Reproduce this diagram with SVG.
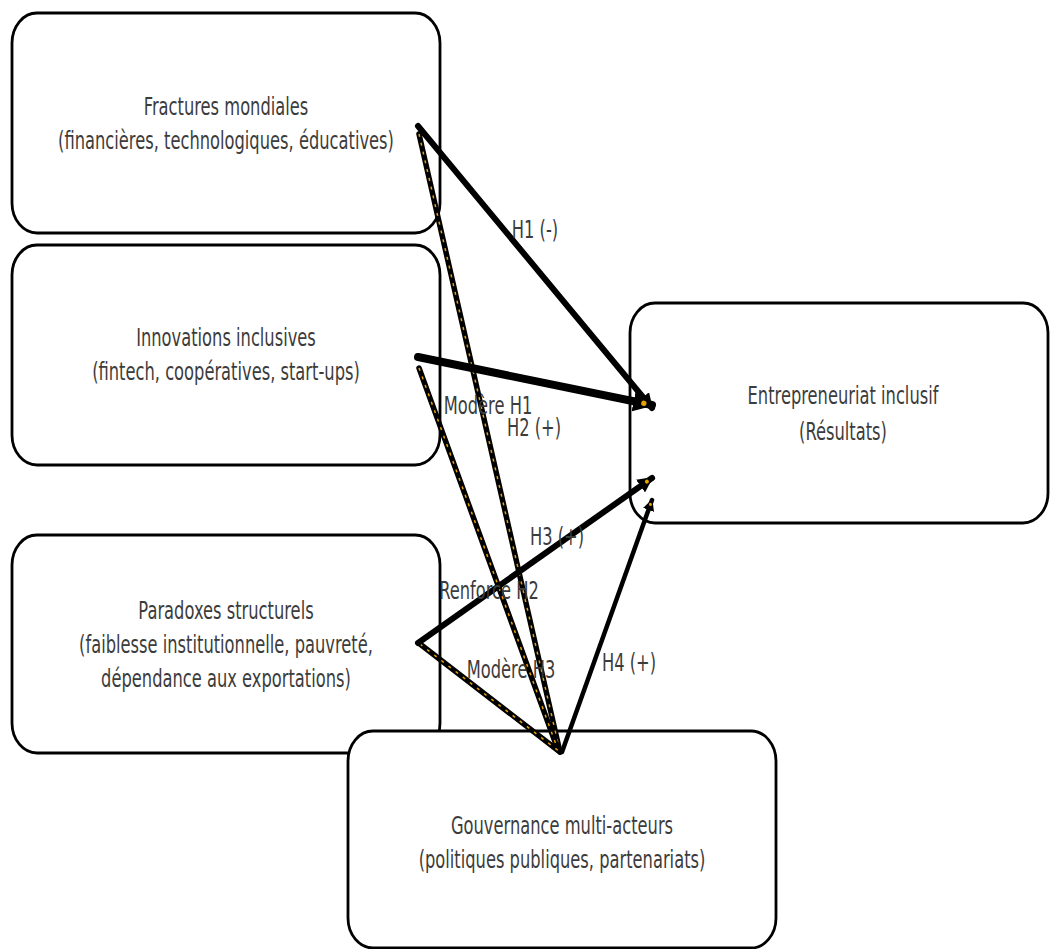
<svg xmlns="http://www.w3.org/2000/svg" width="1050" height="949" viewBox="0 0 1050 949">
<defs>
<style>
.box{fill:#fff;stroke:#000;stroke-width:2.8}
.t{font-family:"DejaVu Sans",sans-serif;font-size:16.3px;fill:#3c3c3c;text-anchor:middle}
.solid{stroke:#000;fill:none;stroke-linecap:round}
.dk{stroke:#000;stroke-width:5.5;fill:none;stroke-linecap:round}
.dor{stroke:#e6a000;stroke-width:1.5;fill:none;stroke-dasharray:3 6}
</style>
<marker id="ah" viewBox="0 0 10 10" refX="9" refY="5" markerWidth="2.6" markerHeight="2.6" orient="auto" markerUnits="strokeWidth">
<path d="M0,0 L10,5 L0,10 Z" fill="#000"/>
<circle cx="5" cy="5" r="1.3" fill="#e6a000"/>
</marker>
</defs>
<rect width="1050" height="949" fill="#fff"/>
<g id="n1"><rect class="box" x="12" y="13" width="428" height="220" rx="25" ry="30"/>
<text class="t" transform="matrix(1,0,0,1.5,226,115)">Fractures mondiales</text>
<text class="t" transform="matrix(1,0,0,1.5,226,149)">(financières, technologiques, éducatives)</text></g>
<g id="n2"><rect class="box" x="12" y="245" width="428" height="220" rx="25" ry="30"/>
<text class="t" transform="matrix(1,0,0,1.5,226,346)">Innovations inclusives</text>
<text class="t" transform="matrix(1,0,0,1.5,226,380)">(fintech, coopératives, start-ups)</text></g>
<g id="n3"><rect class="box" x="12" y="535" width="428" height="218" rx="25" ry="30"/>
<text class="t" transform="matrix(1,0,0,1.5,226,619)">Paradoxes structurels</text>
<text class="t" transform="matrix(1,0,0,1.5,226,653)">(faiblesse institutionnelle, pauvreté,</text>
<text class="t" transform="matrix(1,0,0,1.5,226,687)">dépendance aux exportations)</text></g>
<g id="n4"><rect class="box" x="348" y="731" width="428" height="217" rx="25" ry="30"/>
<text class="t" transform="matrix(1,0,0,1.5,562,834)">Gouvernance multi-acteurs</text>
<text class="t" transform="matrix(1,0,0,1.5,562,868)">(politiques publiques, partenariats)</text></g>
<g id="n5"><rect class="box" x="630" y="303" width="418" height="220" rx="25" ry="30"/>
<text class="t" transform="matrix(1,0,0,1.5,843,404)">Entrepreneuriat inclusif</text>
<text class="t" transform="matrix(1,0,0,1.5,843,440)">(Résultats)</text></g>
<g id="edges">
<line class="dk" x1="419" y1="134" x2="560" y2="752"/>
<line class="dor" x1="419" y1="134" x2="560" y2="752"/>
<line class="dk" x1="419" y1="368" x2="558" y2="750"/>
<line class="dor" x1="419" y1="368" x2="558" y2="750"/>
<line class="dk" x1="420" y1="644" x2="560" y2="752"/>
<line class="dor" x1="420" y1="644" x2="560" y2="752"/>
<line class="solid" x1="418" y1="126" x2="652" y2="408" stroke-width="6" marker-end="url(#ah)"/>
<line class="solid" x1="418" y1="357" x2="652" y2="405" stroke-width="8" marker-end="url(#ah)"/>
<line class="solid" x1="418" y1="643" x2="652" y2="478" stroke-width="6" marker-end="url(#ah)"/>
<line class="solid" x1="562" y1="752" x2="652" y2="500" stroke-width="4.5" marker-end="url(#ah)"/>
<text class="t" transform="matrix(1,0,0,1.5,535,238)">H1 (-)</text>
<text class="t" transform="matrix(1,0,0,1.5,488,414)">Modère H1</text>
<text class="t" transform="matrix(1,0,0,1.5,534,436)">H2 (+)</text>
<text class="t" transform="matrix(1,0,0,1.5,557,545)">H3 (+)</text>
<text class="t" transform="matrix(1,0,0,1.5,489,599)">Renforce H2</text>
<text class="t" transform="matrix(1,0,0,1.5,511,678)">Modère H3</text>
<text class="t" transform="matrix(1,0,0,1.5,629,671)">H4 (+)</text>
</g>
</svg>
